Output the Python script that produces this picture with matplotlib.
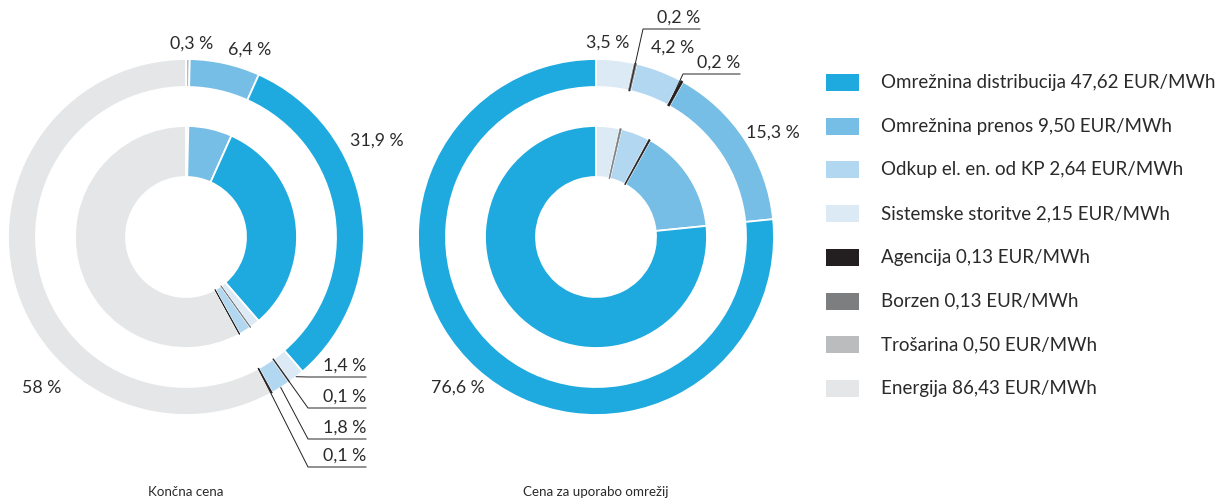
import numpy as np
import matplotlib
matplotlib.use('Agg')
import matplotlib.pyplot as plt
from matplotlib.patches import Rectangle

plt.rcParams['font.family'] = ['Lato', 'DejaVu Sans']

# Data

categories = ['Omrežnina distribucija', 'Omrežnina prenos', 'Odkup el. en. od KP',
              'Sistemske storitve', 'Agencija', 'Borzen', 'Trošarina', 'Energija']
values = [47.62, 9.50, 2.64, 2.15, 0.13, 0.13, 0.50, 86.43]   # EUR/MWh
colors = ['#1eaade', '#76bee5', '#b2d7f0', '#dceaf6',
          '#231f20', '#7d7e80', '#bbbcbe', '#e5e6e7']

# slice order, clockwise from 12 o'clock
left_order = ['Trošarina', 'Omrežnina prenos', 'Omrežnina distribucija',
              'Sistemske storitve', 'Borzen', 'Odkup el. en. od KP',
              'Agencija', 'Energija']
right_order = ['Sistemske storitve', 'Borzen', 'Odkup el. en. od KP',
               'Agencija', 'Omrežnina prenos', 'Omrežnina distribucija']

left_pct = ['0,3 %', '6,4 %', '31,9 %', '1,4 %', '0,1 %', '1,8 %', '0,1 %', '58 %']
right_pct = ['3,5 %', '0,2 %', '4,2 %', '0,2 %', '15,3 %', '76,6 %']

titles = ['Končna cena', 'Cena za uporabo omrežij']

TXT = '#2a2a2a'

# Label placement (pixels): ('at', x, y) -> centred text,
# ('lead', elbow_x, line_y, end_x, start_r) -> leader line
left_lab = [('at', 192, 44), ('at', 250, 50), ('at', 377, 141),
            ('lead', 308, 377, 366, 178), ('lead', 308, 408, 366, 150),
            ('lead', 308, 439, 366, 178), ('lead', 308, 467, 366, 150),
            ('at', 42, 388)]
right_lab = [('at', 608, 43), ('lead', 643, 29, 700, 150), ('at', 673, 48),
             ('lead', 683, 74, 740, 150), ('at', 773, 133), ('at', 458, 388)]


def fmt_val(v):
    return f'{v:.2f}'.replace('.', ',')


def draw_donut(ax, order, pct, labs, cx, cy, title):
    vals = [values[categories.index(c)] for c in order]
    cols = [colors[categories.index(c)] for c in order]
    total = sum(vals)

    rings = []
    for radius, width in [(178, 28), (111, 51)]:
        wedges, _ = ax.pie(vals, colors=cols, radius=radius, center=(cx, cy),
                           startangle=-90, counterclock=True,
                           wedgeprops=dict(width=width, edgecolor='white',
                                           linewidth=1.3))
        # very thin slices: draw as a line in their own colour, on top
        for w, v, c in zip(wedges, vals, cols):
            if v / total < 0.003:
                w.set_edgecolor(c)
                w.set_linewidth(0.45)
                w.set_zorder(3)
        rings.append(wedges)

    outer = rings[0]
    for w, p, lab in zip(outer, pct, labs):
        if lab[0] == 'at':
            ax.text(lab[1], lab[2], p, ha='center', va='center',
                    fontsize=12.8, color=TXT)
        else:
            ex, ly, endx, r0 = lab[1:]
            th = np.deg2rad((w.theta1 + w.theta2) / 2)
            sx, sy = cx + r0 * np.cos(th), cy + r0 * np.sin(th)
            ax.plot([sx, ex, endx], [sy, ly, ly], color='#231f20', lw=0.7,
                    zorder=4, solid_joinstyle='miter')
            ax.text(endx, ly - 3, p, ha='right', va='bottom',
                    fontsize=12.8, color=TXT)

    ax.text(cx, 492, title, ha='center', va='center', fontsize=9.6, color=TXT)


fig = plt.figure(figsize=(12.15, 5), dpi=100)
ax = fig.add_axes([0, 0, 1, 1])

draw_donut(ax, left_order, left_pct, left_lab, 186, 237, titles[0])
draw_donut(ax, right_order, right_pct, right_lab, 596, 237, titles[1])

# Legend
for i, (cat, val, col) in enumerate(zip(categories, values, colors)):
    y = 82.5 + i * 43.7
    ax.add_patch(Rectangle((826, y - 8.5), 33, 17, facecolor=col, edgecolor='none'))
    ax.text(881, y, f'{cat} {fmt_val(val)} EUR/MWh', ha='left', va='center',
            fontsize=13.5, color=TXT)

ax.set_xlim(0, 1215)
ax.set_ylim(500, 0)
ax.set_aspect('auto')
ax.axis('off')

fig.savefig('out.png', dpi=100)
